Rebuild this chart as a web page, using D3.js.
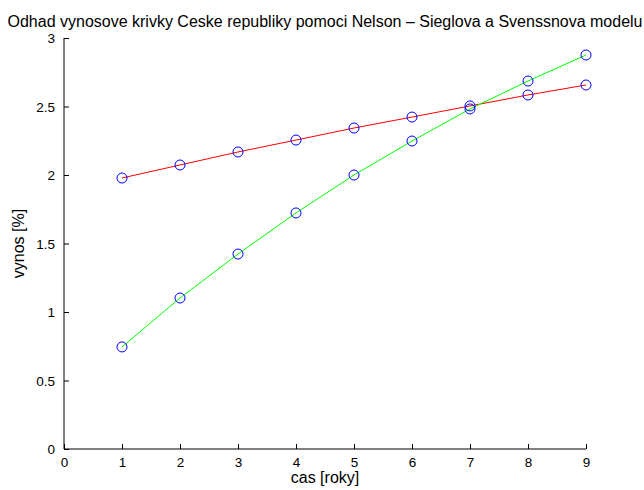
<!DOCTYPE html>
<html>
<head>
<meta charset="utf-8">
<script src="https://cdn.jsdelivr.net/npm/d3@7"></script>
<style>
  html, body { margin: 0; padding: 0; background: #fff; }
  svg text { font-family: "Liberation Sans", Arial, Helvetica, sans-serif; fill: #000; }
</style>
</head>
<body>
<svg id="chart" width="644" height="490"></svg>
<script>
// Maturities in years
const maturities = [1, 2, 3, 4, 5, 6, 7, 8, 9];
// Nelson–Siegel curve (red) and Svensson curve (green), yields in %
const nelsonSiegel = [1.978, 2.073, 2.168, 2.255, 2.343, 2.423, 2.504, 2.584, 2.657];
const svensson     = [0.745, 1.102, 1.423, 1.723, 2.000, 2.248, 2.482, 2.686, 2.876];
const xTicks = [0, 1, 2, 3, 4, 5, 6, 7, 8, 9];
const yTicks = [0, 0.5, 1, 1.5, 2, 2.5, 3];

const svg = d3.select("#chart");
const margin = { left: 64, right: 58, top: 38, bottom: 41 };
const W = 644, H = 490;
const tickFont = 13.5, labelFont = 16;

const x = d3.scaleLinear().domain([0, 9]).range([margin.left, W - margin.right]);
const y = d3.scaleLinear().domain([0, 3]).range([H - margin.bottom, margin.top]);

// axes with inward ticks
const xAxis = d3.axisBottom(x).tickValues(xTicks).tickSize(-5).tickPadding(8).tickFormat(d3.format("d"));
const yAxis = d3.axisLeft(y).tickValues(yTicks).tickSize(-5).tickPadding(9).tickFormat(d => String(d));

const gx = svg.append("g").attr("transform", `translate(0,${y(0)})`).call(xAxis);
const gy = svg.append("g").attr("transform", `translate(${x(0)},0)`).call(yAxis);
[gx, gy].forEach(g => {
  g.select(".domain").attr("stroke", "#000").attr("stroke-width", 1);
  g.selectAll(".tick line").attr("stroke", "#000");
  g.selectAll(".tick text").attr("font-size", tickFont).attr("font-family", "Liberation Sans, Arial, sans-serif");
});
// plain axis lines without end caps
gx.select(".domain").attr("d", `M${x(0)},0H${x(9)}`);
gy.select(".domain").attr("d", `M0,${y(0)}V${y(3)}`);
gy.selectAll(".tick text").attr("dy", "0.35em");

const line = d3.line().x((d, i) => x(maturities[i])).y(d => y(d));

svg.append("path").datum(nelsonSiegel).attr("d", line)
  .attr("fill", "none").attr("stroke", "#ff0000").attr("stroke-width", 1);
svg.append("path").datum(svensson).attr("d", line)
  .attr("fill", "none").attr("stroke", "#00ff00").attr("stroke-width", 1);

[nelsonSiegel, svensson].forEach(series => {
  svg.append("g").selectAll("circle").data(series).join("circle")
    .attr("cx", (d, i) => x(maturities[i]))
    .attr("cy", d => y(d))
    .attr("r", 5)
    .attr("fill", "none")
    .attr("stroke", "#0000ff")
    .attr("stroke-width", 1);
});

// title and axis labels
svg.append("text").attr("x", 325).attr("y", 27).attr("text-anchor", "middle")
  .attr("font-size", labelFont).text("Odhad vynosove krivky Ceske republiky pomoci Nelson – Sieglova a Svenssnova modelu");
svg.append("text").attr("x", (x(0) + x(9)) / 2).attr("y", 483).attr("text-anchor", "middle")
  .attr("font-size", labelFont).text("cas [roky]");
svg.append("text").attr("transform", `translate(24,${(y(0) + y(3)) / 2}) rotate(-90)`)
  .attr("text-anchor", "middle").attr("font-size", labelFont).text("vynos [%]");
</script>
</body>
</html>
